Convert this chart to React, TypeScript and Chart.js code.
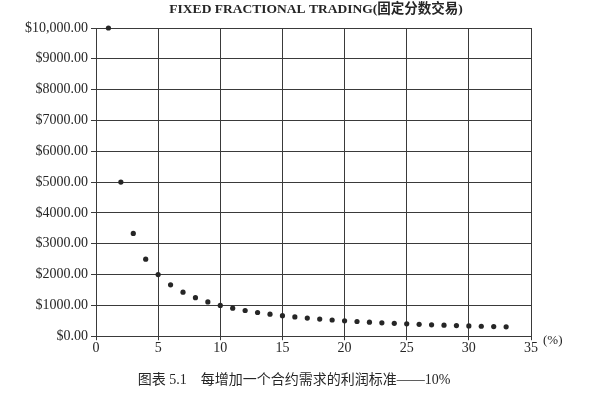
import React, { useEffect, useRef } from "react";
import { Chart, registerables } from "chart.js";

Chart.register(...registerables);

const titleText = "FIXED FRACTIONAL TRADING(固定分数交易)";
const captionText = "图表 5.1    每增加一个合约需求的利润标准——10%";
const xUnitLabel = "(%)";

const xValues = [
  1, 2, 3, 4, 5, 6, 7, 8, 9, 10, 11, 12, 13, 14, 15, 16, 17, 18, 19, 20, 21,
  22, 23, 24, 25, 26, 27, 28, 29, 30, 31, 32, 33,
];
const yValues = [
  10000, 5000, 3333.33, 2500, 2000, 1666.67, 1428.57, 1250, 1111.11, 1000,
  909.09, 833.33, 769.23, 714.29, 666.67, 625, 588.24, 555.56, 526.32, 500,
  476.19, 454.55, 434.78, 416.67, 400, 384.62, 370.37, 357.14, 344.83, 333.33,
  322.58, 312.5, 303.03,
];

const xMin = 0;
const xMax = 35;
const xStep = 5;
const yMin = 0;
const yMax = 10000;
const yStep = 1000;

const formatDollar = (v: number) => {
  if (v >= 10000) {
    return "$" + v.toLocaleString("en-US", { minimumFractionDigits: 2, maximumFractionDigits: 2 });
  }
  return "$" + v.toFixed(2);
};

const INK = "#262626";
const GRID = "#3a3a3a";
const SERIF = "'Liberation Serif', 'Times New Roman', serif";
const CJK = "'Liberation Serif', 'Noto Sans CJK SC', serif";

const textPlugin = {
  id: "textLabels",
  afterDraw(chart: any) {
    const { ctx, chartArea } = chart;
    ctx.save();
    ctx.fillStyle = INK;
    ctx.textBaseline = "middle";
    ctx.font = `bold 13.5px ${CJK}`;
    ctx.textAlign = "center";
    ctx.fillText(titleText, 316, 10);
    ctx.font = `14px ${CJK}`;
    ctx.textAlign = "center";
    ctx.fillText(captionText, 294, 380);
    ctx.font = `13px ${SERIF}`;
    ctx.textAlign = "left";
    ctx.fillText(xUnitLabel, chartArea.right + 12, chartArea.bottom + 4);
    ctx.restore();
  },
};

export default function App() {
  const canvasRef = useRef<HTMLCanvasElement | null>(null);

  useEffect(() => {
    const prevMargin = document.body.style.margin;
    document.body.style.margin = "0";
    const canvas = canvasRef.current;
    if (!canvas) return;
    const chart = new Chart(canvas, {
      type: "scatter",
      data: {
        datasets: [
          {
            data: xValues.map((x, i) => ({ x, y: yValues[i] })),
            backgroundColor: INK,
            borderColor: INK,
            pointRadius: 2.6,
            pointBorderWidth: 0,
            clip: false,
          },
        ],
      },
      options: {
        responsive: false,
        animation: false,
        layout: { padding: { left: 0, right: 68, top: 28, bottom: 43 } },
        plugins: {
          legend: { display: false },
          tooltip: { enabled: false },
          title: { display: false },
        },
        scales: {
          x: {
            type: "linear",
            min: xMin,
            max: xMax,
            ticks: {
              stepSize: xStep,
              color: INK,
              font: { family: SERIF, size: 14 },
              padding: 0,
            },
            grid: { color: GRID, lineWidth: 1, tickLength: 4 },
            border: { color: GRID, width: 1 },
          },
          y: {
            type: "linear",
            min: yMin,
            max: yMax,
            afterFit(scale: any) {
              scale.width = 96;
            },
            ticks: {
              stepSize: yStep,
              color: INK,
              font: { family: SERIF, size: 14 },
              padding: 3,
              callback: (v: any) => formatDollar(Number(v)),
            },
            grid: { color: GRID, lineWidth: 1, tickLength: 5 },
            border: { color: GRID, width: 1 },
          },
        },
      },
      plugins: [textPlugin],
    } as any);
    return () => {
      chart.destroy();
      document.body.style.margin = prevMargin;
    };
  }, []);

  return (
    <div style={{ width: 599, height: 400, background: "#fff" }}>
      <canvas ref={canvasRef} width={599} height={400} style={{ display: "block" }} />
    </div>
  );
}
